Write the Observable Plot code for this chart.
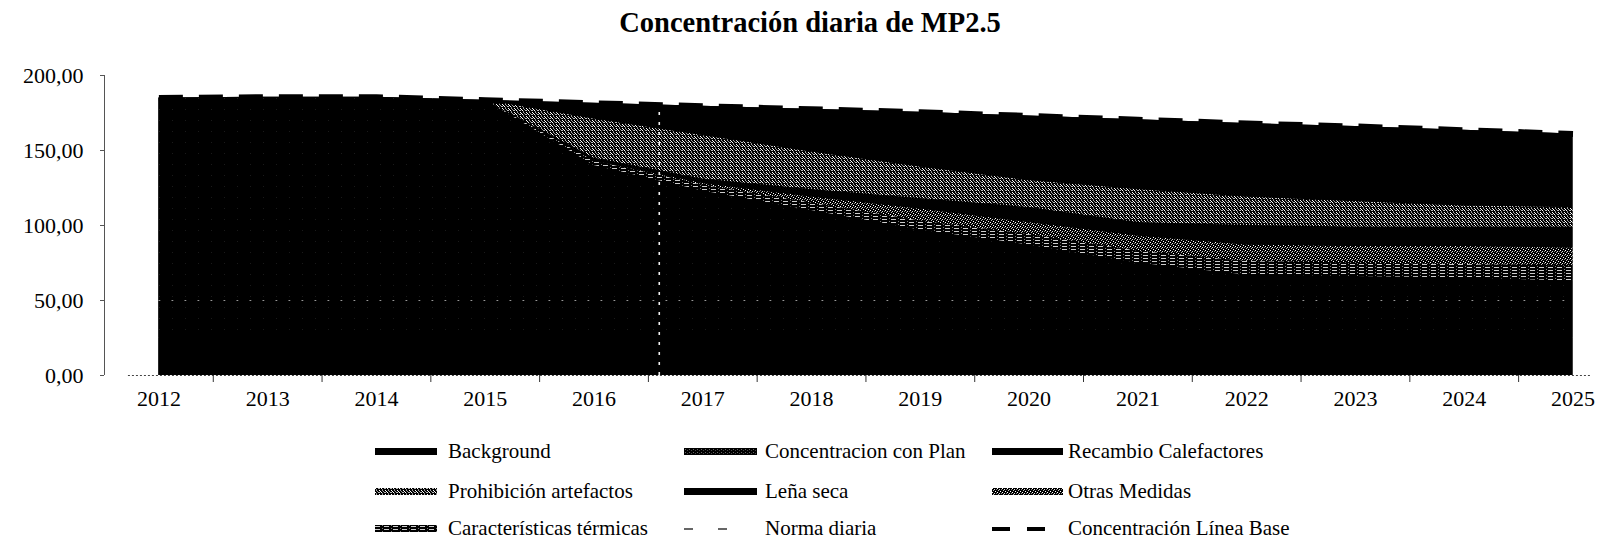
<!DOCTYPE html>
<html>
<head>
<meta charset="utf-8">
<script src="https://cdn.jsdelivr.net/npm/d3@7"></script>
<script src="https://cdn.jsdelivr.net/npm/@observablehq/plot@0.6"></script>
<style>
  html, body { margin: 0; padding: 0; background: #fff; }
  body { width: 1597px; height: 541px; position: relative; overflow: hidden;
         font-family: "Liberation Serif", "Times New Roman", serif; color: #000; }
  #title { position: absolute; left: 0; top: 8px; width: 1620px; text-align: center;
           font-family: "Liberation Serif", serif; font-weight: bold; font-size: 28.5px; line-height: 30px; }
  #chart { position: absolute; left: 0; top: 50px; }
  #legend { position: absolute; left: 0; top: 425px; width: 1597px; height: 116px; }
  .item { position: absolute; height: 30px; }
  .item svg { position: absolute; top: 0; }
  .item span { position: absolute; top: 0; line-height: 30px; font-size: 21px; white-space: nowrap;
               font-family: "Liberation Serif", serif; }
</style>
</head>
<body>
<svg width="0" height="0" style="position:absolute">
  <defs>
    <pattern id="pPlan" patternUnits="userSpaceOnUse" width="13" height="11">
      <rect width="13" height="11" fill="#000"/>
      <rect x="3" y="4" width="1" height="1" fill="#1a1a1a"/>
    </pattern>
    <pattern id="pPlanLegend" patternUnits="userSpaceOnUse" width="4" height="3">
      <rect width="4" height="3" fill="#000"/>
      <rect x="1" y="1" width="1" height="1" fill="#666"/>
      <rect x="3" y="2" width="1" height="1" fill="#444"/>
    </pattern>
    <pattern id="pProh" patternUnits="userSpaceOnUse" width="6" height="4">
      <rect width="6" height="4" fill="#000"/>
      <rect x="0" y="0" width="1" height="1" fill="#fff"/>
      <rect x="3" y="0" width="2" height="1" fill="#bbb"/>
      <rect x="1" y="1" width="1" height="1" fill="#888"/>
      <rect x="4" y="2" width="1" height="1" fill="#fff"/>
      <rect x="1" y="2" width="1" height="1" fill="#aaa"/>
      <rect x="2" y="3" width="1" height="1" fill="#999"/>
      <rect x="5" y="3" width="1" height="1" fill="#fff"/>
    </pattern>
    <pattern id="pOtras" patternUnits="userSpaceOnUse" width="5" height="4">
      <rect width="5" height="4" fill="#000"/>
      <rect x="0" y="0" width="1" height="1" fill="#fff"/>
      <rect x="2" y="1" width="1" height="1" fill="#ddd"/>
      <rect x="4" y="1" width="1" height="1" fill="#888"/>
      <rect x="1" y="2" width="1" height="1" fill="#bbb"/>
      <rect x="3" y="3" width="1" height="1" fill="#fff"/>
    </pattern>
    <pattern id="pCarac" patternUnits="userSpaceOnUse" width="9" height="3">
      <rect width="9" height="3" fill="#000"/>
      <rect x="0" y="1" width="5" height="1" fill="#ccc"/>
      <rect x="7" y="0" width="1" height="1" fill="#777"/>
    </pattern>
  </defs>
</svg>

<div id="title">Concentración diaria de MP2.5</div>
<div id="chart"></div>
<div id="legend"></div>

<script>
// ---- data ----
const years = [2012, 2013, 2014, 2015, 2016, 2017, 2018, 2019, 2020, 2021, 2022, 2023, 2024, 2025];

// stacked layers, bottom to top
const background      = [25, 25, 25, 25, 25, 25, 25, 25, 25, 25, 25, 25, 25, 25];
const concentracionConPlan = [160, 160.5, 160.5, 158.5, 115, 98, 85, 72, 62, 50, 42, 41, 40, 38];
const caracteristicasTermicas = [0, 0, 0, 0, 3, 4, 5, 6, 7, 8, 9, 9, 9, 10];
const otrasMedidas    = [0, 0, 0, 0, 0, 1, 4, 8, 8, 10, 11, 11, 12, 12];
const lenaSeca        = [0, 0, 0, 0, 2, 3, 5, 7, 10, 9, 13, 13, 13, 14];
const prohibicionArtefactos = [0, 0, 0, 0, 26, 29, 25, 21, 18, 22, 19, 17, 14, 13];
const recambioCalefactores  = [0, 0, 0, 0, 10.5, 19.5, 28.5, 36.5, 43, 46.5, 49, 50, 50.5, 49];

// lines
const concentracionLineaBase = [185, 185.5, 185.5, 183.5, 181.5, 179.5, 177.5, 175.5, 173, 170.5, 168, 166, 163.5, 161];
const normaDiaria = [50, 50, 50, 50, 50, 50, 50, 50, 50, 50, 50, 50, 50, 50];

// vertical marker seen in the chart
const marcaVertical = [2016.6];

const yTicks = [0, 50, 100, 150, 200];
const xTickMarks = [2012.5, 2013.5, 2014.5, 2015.5, 2016.5, 2017.5, 2018.5, 2019.5, 2020.5, 2021.5, 2022.5, 2023.5, 2024.5];

const seriesNames = ["Background", "Concentracion con Plan", "Características térmicas", "Otras Medidas",
                     "Leña seca", "Prohibición artefactos", "Recambio Calefactores"];
const seriesValues = [background, concentracionConPlan, caracteristicasTermicas, otrasMedidas,
                      lenaSeca, prohibicionArtefactos, recambioCalefactores];
const seriesFills = ["#000", "url(#pPlan)", "url(#pCarac)", "url(#pOtras)", "#000", "url(#pProh)", "#000"];

const stacked = seriesNames.flatMap((name, s) =>
  years.map((year, i) => ({year, series: name, value: seriesValues[s][i]})));
const baseRows = years.map((year, i) => ({year, total: concentracionLineaBase[i], norma: normaDiaria[i]}));

const fmt = d => d3.format(".2f")(d).replace(".", ",");

const plot = Plot.plot({
  width: 1597,
  height: 375,
  marginTop: 25,
  marginBottom: 50,
  marginLeft: 104,
  marginRight: 6,
  style: {fontFamily: "Liberation Serif, serif", fontSize: "22px", color: "#000", background: "transparent", overflow: "visible"},
  x: {domain: [2011.5, 2025.17], axis: null},
  y: {domain: [0, 200], axis: null},
  color: {domain: seriesNames, range: seriesFills},
  marks: [
    // black underlay to avoid seams between adjacent black layers
    Plot.areaY(baseRows, {x: "year", y: "total", fill: "#000"}),
    Plot.areaY(stacked, {x: "year", y: "value", z: "series", fill: "series", order: seriesNames}),
    Plot.lineY(baseRows, {x: "year", y: "norma", stroke: "#999", strokeWidth: 1, strokeDasharray: "1,12"}),
    Plot.ruleX(marcaVertical, {y1: 0, y2: 179, stroke: "#eee", strokeWidth: 1.6, strokeDasharray: "3,7"}),
    Plot.lineY(baseRows, {x: "year", y: "total", stroke: "#000", strokeWidth: 6, strokeDasharray: "24,16", strokeLinecap: "butt"}),
    Plot.ruleY([0], {x1: 2011.72, x2: 2025.17, stroke: "#444", strokeWidth: 1, strokeDasharray: "2,2"}),
    Plot.ruleX([2011.5], {y1: 0, y2: 200, stroke: "#555", strokeWidth: 1}),
    Plot.axisY({ticks: yTicks, tickFormat: fmt, tickSize: 4, tickPadding: 17, stroke: "#555", fontSize: 22, label: null}),
    Plot.axisX({ticks: xTickMarks, tickSize: 7, tickFormat: () => "", stroke: "#333", label: null}),
    Plot.axisX({ticks: years, tickSize: 0, tickPadding: 15, tickFormat: d => String(d), fontSize: 22, label: null})
  ]
});
document.getElementById("chart").appendChild(plot);

// ---- legend ----
const legendItems = [
  {label: "Background", kind: "fill", fill: "#000", col: 0, row: 0},
  {label: "Concentracion con Plan", kind: "fill", fill: "url(#pPlanLegend)", col: 1, row: 0},
  {label: "Recambio Calefactores", kind: "fill", fill: "#000", col: 2, row: 0},
  {label: "Prohibición artefactos", kind: "fill", fill: "url(#pProh)", col: 0, row: 1},
  {label: "Leña seca", kind: "fill", fill: "#000", col: 1, row: 1},
  {label: "Otras Medidas", kind: "fill", fill: "url(#pOtras)", col: 2, row: 1},
  {label: "Características térmicas", kind: "fill", fill: "url(#pCarac)", col: 0, row: 2},
  {label: "Norma diaria", kind: "norma", col: 1, row: 2},
  {label: "Concentración Línea Base", kind: "base", col: 2, row: 2}
];
const cols = [{sx: 375, sw: 62, tx: 448}, {sx: 684, sw: 73, tx: 765}, {sx: 992, sw: 71, tx: 1068}];
const rowCenters = [26, 66, 103];
const legend = d3.select("#legend");
legendItems.forEach(it => {
  const c = cols[it.col];
  const div = legend.append("div").attr("class", "item")
    .style("left", c.sx + "px").style("top", (rowCenters[it.row] - 15) + "px")
    .style("width", (c.tx - c.sx + 300) + "px");
  const svg = div.append("svg").attr("width", c.sw).attr("height", 30).style("left", "0px");
  if (it.kind === "fill") {
    svg.append("rect").attr("x", 0).attr("y", 12).attr("width", c.sw).attr("height", 7).attr("fill", it.fill);
  } else if (it.kind === "norma") {
    svg.append("line").attr("x1", 0).attr("x2", 44).attr("y1", 16).attr("y2", 16)
      .attr("stroke", "#666").attr("stroke-width", 2).attr("stroke-dasharray", "9,25");
  } else {
    svg.append("line").attr("x1", 0).attr("x2", 55).attr("y1", 16).attr("y2", 16)
      .attr("stroke", "#000").attr("stroke-width", 4).attr("stroke-dasharray", "18,17");
  }
  div.append("span").style("left", (c.tx - c.sx) + "px").text(it.label);
});
</script>
</body>
</html>
